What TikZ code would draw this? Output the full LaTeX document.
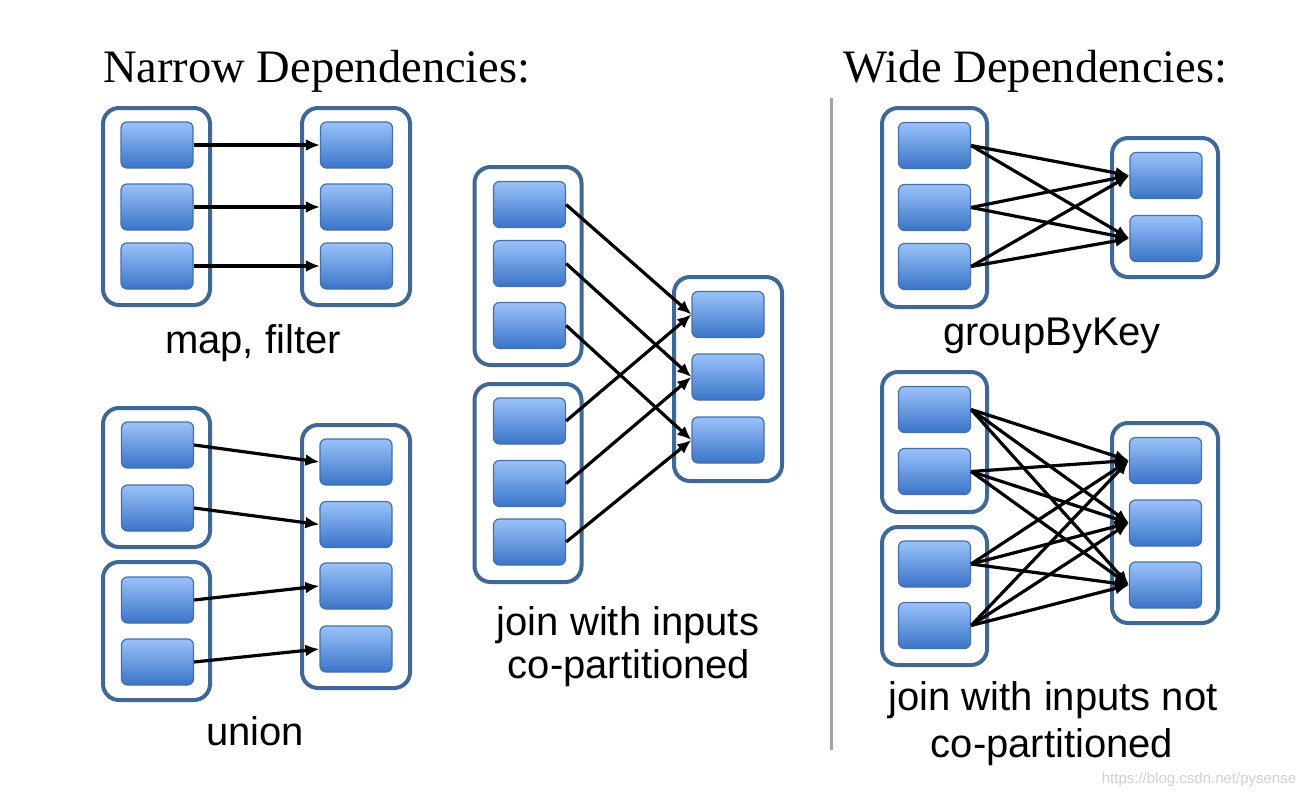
\documentclass[tikz,border=0pt]{standalone}
\usepackage{fontspec}
\setmainfont{Liberation Serif}
\newfontfamily\lsans{Liberation Sans}
\usetikzlibrary{arrows.meta}
\definecolor{ptop}{HTML}{9AC2FA}
\definecolor{pbot}{HTML}{3A74C8}
\definecolor{pedge}{HTML}{4670A6}
\definecolor{rddedge}{HTML}{3F6896}
\definecolor{sepgray}{HTML}{A3A3A3}
\begin{document}
\begin{tikzpicture}[x=1pt,y=-1pt,
  part/.style={rectangle, rounded corners=6pt, minimum width=72pt, minimum height=46pt, inner sep=0pt, draw=pedge, line width=1.2pt, top color=ptop, bottom color=pbot},
  rdd/.style={rectangle, rounded corners=16pt, draw=rddedge, line width=4pt, fill=white, inner sep=0pt},
  dep/.style={-{Latex[length=14pt,width=12pt]}, line width=3.2pt, black},
  title/.style={font=\fontsize{46.5}{50}\selectfont, anchor=base west, inner sep=0pt},
  lbl/.style={font=\lsans\fontsize{40}{44}\selectfont, anchor=base, inner sep=0pt},
  wm/.style={font=\lsans\fontsize{15}{17}\selectfont, anchor=base, inner sep=0pt, text=black!18}]

\useasboundingbox[fill=white] (0,0) rectangle (1312,798);

% titles
\node[title] (tNarrow) at (103,82) {Narrow Dependencies:};
\node[title] (tWide) at (843,82) {Wide Dependencies:};

% separator
\coordinate (sepT) at (831,98);
\coordinate (sepB) at (831,750);
\draw[line width=3pt, sepgray] (sepT) -- (sepB);

% ---------- map, filter ----------
\node[rdd, minimum width=107pt, minimum height=197pt] (mfL) at (156.5,206.5) {};
\node[rdd, minimum width=108pt, minimum height=197pt] (mfR) at (356,206.5) {};
\foreach \i/\y in {1/145,2/207,3/266}{
  \node[part] (mfL\i) at (157,\y) {};
  \node[part] (mfR\i) at (356.5,\y) {};
}
\foreach \i in {1,2,3}{\draw[dep] (mfL\i.east) -- (mfR\i.west);}
\node[lbl] (lmap) at (253,353) {map, filter};

% ---------- union ----------
\node[rdd, minimum width=107pt, minimum height=139pt] (unA) at (156.5,477.5) {};
\node[rdd, minimum width=107pt, minimum height=138pt] (unB) at (156.5,631) {};
\node[rdd, minimum width=108pt, minimum height=263pt] (unR) at (356,556.5) {};
\node[part] (unA1) at (157.5,445) {};
\node[part] (unA2) at (157.5,508) {};
\node[part] (unB1) at (157.5,600) {};
\node[part] (unB2) at (157.5,662) {};
\foreach \i/\y in {1/462,2/524.5,3/586,4/649}{\node[part] (unR\i) at (356,\y) {};}
\draw[dep] (unA1.east) -- (unR1.west);
\draw[dep] (unA2.east) -- (unR2.west);
\draw[dep] (unB1.east) -- (unR3.west);
\draw[dep] (unB2.east) -- (unR4.west);
\node[lbl] (lunion) at (255,745) {union};

% ---------- join co-partitioned ----------
\node[rdd, minimum width=107pt, minimum height=198pt] (jcA) at (528,266) {};
\node[rdd, minimum width=107pt, minimum height=198pt] (jcB) at (528,483) {};
\node[rdd, minimum width=108pt, minimum height=204pt] (jcR) at (728,379) {};
\foreach \i/\y in {1/204.5,2/263.5,3/325.5}{\node[part] (jcA\i) at (529.5,\y) {};}
\foreach \i/\y in {1/421,2/483.5,3/542}{\node[part] (jcB\i) at (529.5,\y) {};}
\foreach \i/\y in {1/314.5,2/377,3/440}{\node[part] (jcR\i) at (728,\y) {};}
\foreach \i in {1,2,3}{
  \draw[dep] (jcA\i.east) -- (jcR\i.west);
  \draw[dep] (jcB\i.east) -- (jcR\i.west);
}
\node[lbl] (ljc1) at (628,635) {join with inputs};
\node[lbl] (ljc2) at (629,678) {co-partitioned};

% ---------- groupByKey ----------
\node[rdd, minimum width=105pt, minimum height=199pt] (gbL) at (934.5,207.5) {};
\node[rdd, minimum width=106pt, minimum height=139pt] (gbR) at (1165,207.5) {};
\foreach \i/\y in {1/145.5,2/207.5,3/266.5}{\node[part] (gbL\i) at (934.5,\y) {};}
\foreach \i/\y in {1/175.5,2/238.5}{\node[part] (gbR\i) at (1166,\y) {};}
\foreach \i in {1,2,3}{\foreach \j in {1,2}{\draw[dep] (gbL\i.east) -- (gbR\j.west);}}
\node[lbl] (lgb) at (1052,345) {groupByKey};

% ---------- join not co-partitioned ----------
\node[rdd, minimum width=105pt, minimum height=140pt] (jnA) at (934.5,442) {};
\node[rdd, minimum width=105pt, minimum height=138pt] (jnB) at (934.5,596) {};
\node[rdd, minimum width=106pt, minimum height=200pt] (jnR) at (1165,523) {};
\node[part] (jnL1) at (934.5,409.5) {};
\node[part] (jnL2) at (934.5,471.5) {};
\node[part] (jnL3) at (934.5,564) {};
\node[part] (jnL4) at (934.5,625.5) {};
\foreach \i/\y in {1/460.5,2/523,3/585}{\node[part] (jnR\i) at (1165.5,\y) {};}
\foreach \i in {1,2,3,4}{\foreach \j in {1,2,3}{\draw[dep] (jnL\i.east) -- (jnR\j.west);}}
\node[lbl] (ljn1) at (1053,710) {join with inputs not};
\node[lbl] (ljn2) at (1052,757) {co-partitioned};

% watermark
\node[wm] (wmark) at (1199,783) {https://blog.csdn.net/pysense};
\end{tikzpicture}
\end{document}
